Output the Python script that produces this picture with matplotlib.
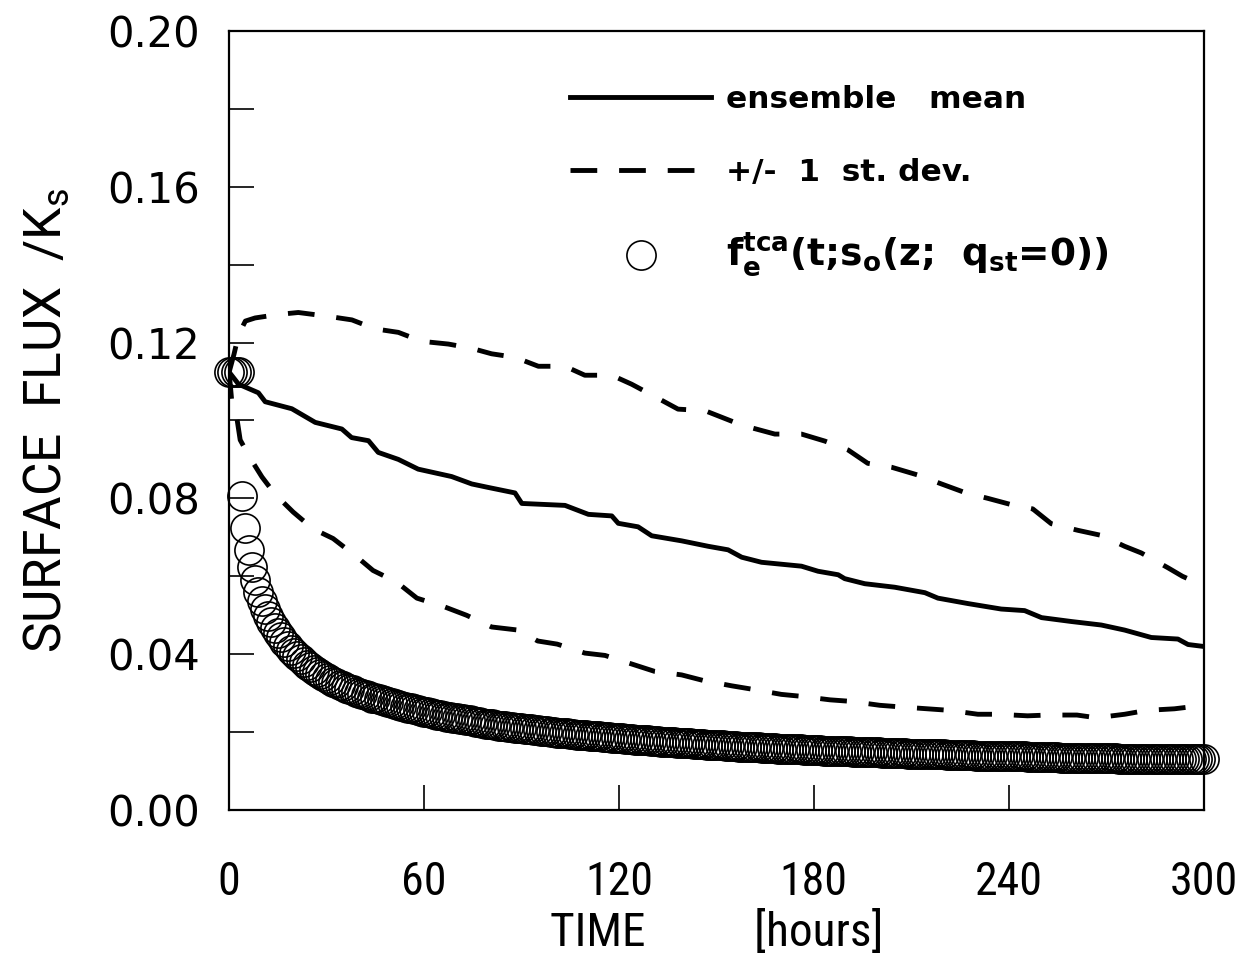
import matplotlib.pyplot as plt
import numpy as np

# ensemble mean (hours, flux / Ks)
mean_t = [0, 2.9, 9, 11.1, 19.3, 26.5, 34.7, 37.7, 42.9, 45.9, 52.1, 58.2, 68.5,
          74.7, 79.8, 88, 90.1, 103.4, 110.6, 117.8, 119.8, 125.9, 130.1, 139.3,
          147.5, 153.6, 157.8, 163.9, 176.2, 181.3, 187.5, 189.5, 195.7, 204.9,
          214.2, 218.2, 227.5, 237.7, 244.9, 250.1, 259.3, 268.5, 275.7, 283.9,
          292.1, 295.2, 300]
mean_v = [0.1124, 0.1093, 0.1071, 0.1048, 0.1030, 0.0995, 0.0978, 0.0956, 0.0948,
          0.0918, 0.0900, 0.0875, 0.0856, 0.0837, 0.0828, 0.0814, 0.0787, 0.0782,
          0.0759, 0.0755, 0.0736, 0.0727, 0.0704, 0.0691, 0.0677, 0.0668, 0.0649,
          0.0636, 0.0626, 0.0613, 0.0604, 0.0594, 0.0581, 0.0572, 0.0558, 0.0544,
          0.0530, 0.0516, 0.0512, 0.0494, 0.0484, 0.0475, 0.0462, 0.0443, 0.0439,
          0.0425, 0.0420]

# mean + 1 st. dev.
upper_t = [0, 1.5, 2.9, 5, 8, 15.2, 21.3, 30.6, 37.8, 44.9, 52.1, 59.3, 67.5, 74.7,
           80.8, 88, 95.2, 103.4, 109.5, 117.8, 123.9, 131.1, 138.2, 146.5, 157.8,
           168, 176.2, 183.4, 190.6, 196.6, 203.9, 212, 219.3, 226.5, 233.6, 240.3,
           247.4, 253.1, 261.3, 268.5, 275.7, 280.8, 289, 293.5, 300]
upper_v = [0.1124, 0.1170, 0.1220, 0.1255, 0.1263, 0.1272, 0.1277, 0.1267, 0.1258,
           0.1235, 0.1226, 0.1203, 0.1196, 0.1185, 0.1171, 0.1162, 0.1139, 0.1139,
           0.1116, 0.1116, 0.1093, 0.1061, 0.1029, 0.1025, 0.0988, 0.0965, 0.0965,
           0.0947, 0.0924, 0.0890, 0.0880, 0.0860, 0.0837, 0.0815, 0.0800, 0.0785,
           0.0773, 0.0735, 0.0718, 0.0705, 0.0677, 0.0660, 0.0622, 0.0600, 0.0576]

# mean - 1 st. dev.
lower_t = [0, 0.8, 2.4, 3.4, 6.5, 10.1, 14.2, 19.7, 25.8, 32, 39.3, 44.3, 51.6,
           57.8, 66.5, 73.1, 80.8, 89, 95, 101, 109.5, 115.7, 124.3, 131, 139.3,
           145.8, 154.7, 161.2, 170, 176.2, 185, 191.6, 200.3, 206.5, 215, 221.8,
           230.5, 236.6, 245.8, 252, 261, 267, 275.7, 282.5, 291, 300]
lower_v = [0.1124, 0.1050, 0.1005, 0.0950, 0.0903, 0.0855, 0.0810, 0.0765, 0.0722,
           0.0697, 0.0650, 0.0615, 0.0585, 0.0544, 0.0521, 0.0500, 0.0470, 0.0462,
           0.0434, 0.0426, 0.0403, 0.0397, 0.0374, 0.0356, 0.0347, 0.0333, 0.0319,
           0.0310, 0.0297, 0.0292, 0.0283, 0.0279, 0.0269, 0.0265, 0.0260, 0.0256,
           0.0246, 0.0246, 0.0242, 0.0244, 0.0244, 0.0237, 0.0246, 0.0256, 0.0260,
           0.0269]

# f_e^tca, one value per hour, t = 0 ... 300
tca_t = np.arange(0, 301)
tca_v = [0.1124, 0.1124, 0.1124, 0.1124, 0.0805, 0.0725, 0.0668, 0.0625, 0.0590, 0.0561,
         0.0537, 0.0516, 0.0498, 0.0482, 0.0468, 0.0455, 0.0443, 0.0432, 0.0422, 0.0412,
         0.0403, 0.0395, 0.0387, 0.0380, 0.0373, 0.0366, 0.0360, 0.0354, 0.0349, 0.0344,
         0.0339, 0.0334, 0.0330, 0.0326, 0.0322, 0.0318, 0.0314, 0.0311, 0.0307, 0.0304,
         0.0301, 0.0298, 0.0295, 0.0292, 0.0289, 0.0287, 0.0284, 0.0282, 0.0279, 0.0277,
         0.0275, 0.0272, 0.0270, 0.0267, 0.0265, 0.0263, 0.0261, 0.0259, 0.0257, 0.0255,
         0.0253, 0.0251, 0.0249, 0.0247, 0.0245, 0.0244, 0.0242, 0.0240, 0.0239, 0.0237,
         0.0236, 0.0234, 0.0233, 0.0231, 0.0230, 0.0228, 0.0227, 0.0225, 0.0224, 0.0222,
         0.0221, 0.0220, 0.0218, 0.0217, 0.0216, 0.0215, 0.0214, 0.0213, 0.0212, 0.0211,
         0.0210, 0.0209, 0.0208, 0.0207, 0.0206, 0.0205, 0.0204, 0.0203, 0.0202, 0.0201,
         0.0200, 0.0199, 0.0198, 0.0197, 0.0197, 0.0196, 0.0195, 0.0194, 0.0193, 0.0193,
         0.0192, 0.0191, 0.0190, 0.0190, 0.0189, 0.0188, 0.0187, 0.0187, 0.0186, 0.0185,
         0.0185, 0.0184, 0.0183, 0.0183, 0.0182, 0.0181, 0.0181, 0.0180, 0.0179, 0.0179,
         0.0178, 0.0177, 0.0177, 0.0176, 0.0176, 0.0175, 0.0174, 0.0174, 0.0173, 0.0173,
         0.0172, 0.0171, 0.0171, 0.0170, 0.0170, 0.0169, 0.0169, 0.0168, 0.0168, 0.0167,
         0.0167, 0.0166, 0.0166, 0.0165, 0.0165, 0.0164, 0.0164, 0.0163, 0.0163, 0.0163,
         0.0162, 0.0162, 0.0161, 0.0161, 0.0160, 0.0160, 0.0160, 0.0159, 0.0159, 0.0158,
         0.0158, 0.0158, 0.0157, 0.0157, 0.0156, 0.0156, 0.0156, 0.0155, 0.0155, 0.0155,
         0.0154, 0.0154, 0.0154, 0.0153, 0.0153, 0.0153, 0.0152, 0.0152, 0.0152, 0.0151,
         0.0151, 0.0151, 0.0150, 0.0150, 0.0150, 0.0149, 0.0149, 0.0149, 0.0148, 0.0148,
         0.0148, 0.0147, 0.0147, 0.0147, 0.0147, 0.0146, 0.0146, 0.0146, 0.0146, 0.0145,
         0.0145, 0.0145, 0.0145, 0.0144, 0.0144, 0.0144, 0.0144, 0.0143, 0.0143, 0.0143,
         0.0143, 0.0142, 0.0142, 0.0142, 0.0142, 0.0141, 0.0141, 0.0141, 0.0141, 0.0141,
         0.0140, 0.0140, 0.0140, 0.0140, 0.0140, 0.0139, 0.0139, 0.0139, 0.0139, 0.0139,
         0.0138, 0.0138, 0.0138, 0.0138, 0.0138, 0.0138, 0.0137, 0.0137, 0.0137, 0.0137,
         0.0137, 0.0136, 0.0136, 0.0136, 0.0136, 0.0136, 0.0135, 0.0135, 0.0135, 0.0135,
         0.0135, 0.0135, 0.0134, 0.0134, 0.0134, 0.0134, 0.0134, 0.0134, 0.0133, 0.0133,
         0.0133, 0.0133, 0.0133, 0.0133, 0.0132, 0.0132, 0.0132, 0.0132, 0.0132, 0.0132,
         0.0132, 0.0131, 0.0131, 0.0131, 0.0131, 0.0131, 0.0131, 0.0131, 0.0131, 0.0130,
         0.0130, 0.0130, 0.0130, 0.0130, 0.0130, 0.0130, 0.0130, 0.0130, 0.0130, 0.0130,
         0.0130]

x_ticks = [0, 60, 120, 180, 240, 300]
y_ticks = [0.00, 0.04, 0.08, 0.12, 0.16, 0.20]
y_minor = [0.02, 0.06, 0.10, 0.14, 0.18]

narrow = ['Roboto Condensed', 'DejaVu Sans']

fig = plt.figure(figsize=(12.59, 9.61), dpi=100)
ax = fig.add_axes([0.182, 0.157, 0.774, 0.811])

ax.plot(mean_t, mean_v, '-', color='black', lw=3.5, label='ensemble   mean')
ax.plot(upper_t, upper_v, color='black', lw=3.5, dashes=(5.5, 4.5),
        label='+/-  1  st. dev.')
ax.plot(lower_t, lower_v, color='black', lw=3.5, dashes=(5.5, 4.5))
ax.plot(tca_t, tca_v, 'o', ms=21, mfc='none', mec='black', mew=1.2, clip_on=False,
        label=r'f$_\mathregular{e}^\mathregular{tca}$(t;s$_\mathregular{o}$(z;  q$_\mathregular{st}$=0))')

ax.set_xlim(0, 300)
ax.set_ylim(0, 0.2)
ax.set_xticks(x_ticks)
ax.set_xticklabels([str(v) for v in x_ticks], family=narrow, fontsize=33)
ax.set_yticks(y_ticks)
ax.set_yticklabels(['%.2f' % v for v in y_ticks], family='DejaVu Sans', fontsize=30)
ax.set_yticks(y_minor, minor=True)

ax.tick_params(which='both', direction='in', length=18, width=1.2)
ax.tick_params(axis='y', which='both', right=False, pad=21)
ax.tick_params(axis='x', top=False, pad=36)
for s in ax.spines.values():
    s.set_linewidth(1.6)

ax.set_xlabel('TIME          [hours]', family=narrow, fontsize=34, labelpad=4)
ax.set_ylabel(r'SURFACE  FLUX  /K$_\mathregular{s}$', family=['Roboto', 'DejaVu Sans'],
              fontsize=37)
ax.yaxis.set_label_coords(-0.162, 0.5)

leg = ax.legend(loc='upper left', bbox_to_anchor=(0.35, 0.93), frameon=False,
                handlelength=4.5, handletextpad=0.5, labelspacing=1.4, borderpad=0,
                borderaxespad=0, numpoints=1,
                prop={'family': 'DejaVu Sans', 'weight': 'bold', 'size': 22.5})
leg.get_texts()[2].set_fontsize(27)

plt.savefig('out.png', dpi=100)
